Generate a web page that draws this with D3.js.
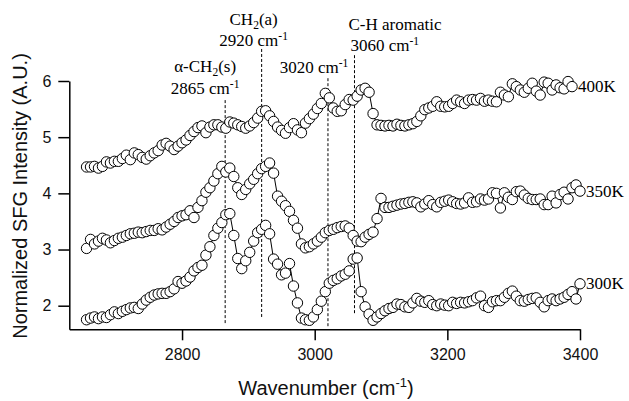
<!DOCTYPE html>
<html>
<head>
<meta charset="utf-8">
<script src="https://cdn.jsdelivr.net/npm/d3@7"></script>
<style>
  body { margin: 0; background: #fff; }
  svg { display: block; }
  .axis path, .axis line { stroke: #000; stroke-width: 1.5; }
  .axis text { font-family: "Liberation Sans", Arial, sans-serif; font-size: 16px; fill: #111; }
  .title { font-family: "Liberation Sans", Arial, sans-serif; font-size: 20px; fill: #111; }
  .note { font-family: "Liberation Serif", "Times New Roman", serif; font-size: 17px; fill: #000; }
</style>
</head>
<body>
<div id="chart"></div>
<script>
// wavenumber grid (cm-1), shared by the three spectra
const wavenumbers = [
  2656, 2662, 2668, 2674, 2680, 2686, 2692, 2698, 2704, 2710,
  2716, 2722, 2728, 2734, 2740, 2746, 2752, 2758, 2764, 2770,
  2776, 2782, 2788, 2794, 2800, 2806, 2812, 2818, 2824, 2830,
  2836, 2842, 2848, 2854, 2860, 2866, 2872, 2878, 2884, 2890,
  2896, 2902, 2908, 2914, 2920, 2926, 2932, 2938, 2944, 2950,
  2956, 2962, 2968, 2974, 2980, 2986, 2992, 2998, 3004, 3010,
  3016, 3022, 3028, 3034, 3040, 3046, 3052, 3058, 3064, 3070,
  3076, 3082, 3088, 3094, 3100, 3106, 3112, 3118, 3124, 3130,
  3136, 3142, 3148, 3154, 3160, 3166, 3172, 3178, 3184, 3190,
  3196, 3202, 3208, 3214, 3220, 3226, 3232, 3238, 3244, 3250,
  3256, 3262, 3268, 3274, 3280, 3286, 3292, 3298, 3304, 3310,
  3316, 3322, 3328, 3334, 3340, 3346, 3352, 3358, 3364, 3370,
  3376, 3382, 3388, 3394, 3400
];

const k300 = [
  1.75, 1.78, 1.80, 1.77, 1.80, 1.79, 1.84, 1.89, 1.86, 1.90,
  1.93, 1.96, 1.97, 1.95, 2.03, 2.10, 2.15, 2.19, 2.21, 2.22,
  2.22, 2.25, 2.30, 2.43, 2.40, 2.44, 2.51, 2.62, 2.68, 2.72,
  2.90, 3.05, 3.25, 3.38, 3.48, 3.62, 3.64, 3.25, 2.84, 2.66,
  2.80, 2.95, 3.15, 3.30, 3.36, 3.43, 3.28, 2.83, 2.74, 2.55,
  2.58, 2.75, 2.35, 2.05, 1.78, 1.75, 1.74, 1.80, 1.93, 2.08,
  2.25, 2.40, 2.45, 2.48, 2.53, 2.56, 2.62, 2.83, 2.85, 2.25,
  1.98, 1.85, 1.74, 1.80, 1.86, 1.91, 1.95, 1.97, 2.03, 2.02,
  1.98, 1.97, 2.05, 2.13, 2.08, 2.06, 2.09, 2.02, 2.00, 2.03,
  2.01, 2.00, 2.06, 2.04, 2.06, 2.05, 2.07, 2.09, 2.14, 2.17,
  2.00, 1.97, 2.07, 2.09, 2.09, 2.15, 2.22, 2.26, 2.17, 2.09,
  2.08, 2.11, 2.13, 2.14, 2.06, 1.98, 2.09, 2.12, 2.09, 2.12,
  2.15, 2.20, 2.25, 2.12, 2.39
];

const k350 = [
  3.02, 3.18, 3.10, 3.15, 3.20, 3.17, 3.12, 3.16, 3.20, 3.22,
  3.25, 3.28, 3.29, 3.31, 3.30, 3.32, 3.34, 3.34, 3.37, 3.35,
  3.40, 3.45, 3.50, 3.57, 3.60, 3.62, 3.69, 3.57, 3.75, 3.87,
  4.02, 4.10, 4.22, 4.35, 4.48, 4.38, 4.45, 4.30, 4.10, 3.98,
  4.07, 4.17, 4.25, 4.35, 4.44, 4.48, 4.54, 4.36, 3.95, 3.86,
  3.78, 3.68, 3.52, 3.38, 3.10, 3.03, 3.05, 3.10, 3.15, 3.22,
  3.30, 3.34, 3.36, 3.39, 3.41, 3.42, 3.38, 3.25, 3.15, 3.14,
  3.22, 3.27, 3.31, 3.55, 3.91, 3.75, 3.75, 3.77, 3.79, 3.81,
  3.82, 3.84, 3.85, 3.83, 3.76, 3.81, 3.87, 3.80, 3.76, 3.84,
  3.86, 3.88, 3.85, 3.82, 3.81, 3.83, 3.92, 3.84, 3.85, 3.90,
  3.88, 3.90, 4.01, 4.00, 3.74, 4.01, 3.93, 3.89, 4.03, 4.04,
  3.97, 3.91, 3.89, 3.89, 3.90, 3.80, 3.80, 3.95, 3.83, 3.98,
  4.02, 3.90, 4.10, 4.15, 4.04
];

const k400 = [
  4.47, 4.47, 4.48, 4.45, 4.48, 4.56, 4.54, 4.57, 4.57, 4.62,
  4.68, 4.60, 4.72, 4.69, 4.64, 4.61, 4.67, 4.72, 4.76, 4.86,
  4.89, 4.84, 4.78, 4.84, 4.90, 4.95, 5.03, 5.10, 5.17, 5.20,
  5.08, 5.18, 5.22, 5.22, 5.18, 5.16, 5.27, 5.25, 5.22, 5.19,
  5.16, 5.20, 5.26, 5.34, 5.46, 5.47, 5.38, 5.28, 5.18, 5.12,
  5.07, 5.17, 5.24, 5.13, 5.08, 5.25, 5.33, 5.41, 5.51, 5.60,
  5.78, 5.70, 5.52, 5.46, 5.47, 5.58, 5.67, 5.66, 5.73, 5.84,
  5.87, 5.80, 5.42, 5.22, 5.21, 5.20, 5.21, 5.20, 5.23, 5.21,
  5.20, 5.22, 5.24, 5.28, 5.38, 5.49, 5.52, 5.55, 5.63, 5.55,
  5.54, 5.55, 5.60, 5.66, 5.63, 5.60, 5.66, 5.67, 5.66, 5.69,
  5.64, 5.66, 5.64, 5.63, 5.80, 5.75, 5.72, 5.95, 5.90, 5.84,
  5.80, 5.87, 5.96, 5.82, 5.75, 5.98, 5.96, 5.84, 5.93, 5.88,
  5.86, 5.99, 5.90, null, null
];

const seriesNames = ["300K", "350K", "400K"];
const xTicks = [2800, 3000, 3200, 3400];
const yTicks = [2, 3, 4, 5, 6];

// assigned bands: dashed marker positions and their vertical extent (intensity units)
const bandPositions = [2865, 2920, 3020, 3060];
const bandTops = [5.66, 6.57, 6.05, 6.46];
const bandBottoms = [1.69, 1.77, 1.61, 1.86];

const width = 629, height = 401;

const x = d3.scaleLinear().domain([2630, 3400]).range([69.3, 580]);
const y = d3.scaleLinear().domain([1.58, 6]).range([329.3, 81]);

const svg = d3.select("#chart").append("svg")
  .attr("width", width)
  .attr("height", height);

// axes
svg.append("g")
  .attr("class", "axis")
  .attr("transform", "translate(0,329.3)")
  .call(d3.axisBottom(x).tickValues(xTicks).tickFormat(d3.format("d"))
    .tickSize(11).tickSizeOuter(0).tickPadding(8));

svg.append("g")
  .attr("class", "axis")
  .attr("transform", "translate(69.3,0)")
  .call(d3.axisLeft(y).tickValues(yTicks).tickFormat(d3.format("d"))
    .tickSize(11).tickSizeOuter(0).tickPadding(7));

// rich text: segments of [text, "sub" | "sup" | undefined]
function richText(g, px, py, segs, anchor) {
  const t = g.append("text")
    .attr("class", "note")
    .attr("x", px)
    .attr("y", py)
    .attr("text-anchor", anchor || "middle");
  let shift = 0;
  segs.forEach(([s, kind]) => {
    const target = kind === "sub" ? 4 : kind === "sup" ? -6 : 0;
    t.append("tspan")
      .attr("dy", target - shift)
      .style("font-size", kind ? "0.68em" : null)
      .text(s);
    shift = target;
  });
  return t;
}

// dashed band markers
svg.append("g").selectAll("line")
  .data(bandPositions)
  .join("line")
  .attr("x1", d => x(d))
  .attr("x2", d => x(d))
  .attr("y1", (d, i) => y(bandTops[i]))
  .attr("y2", (d, i) => y(bandBottoms[i]))
  .attr("stroke", "#000")
  .attr("stroke-width", 1)
  .attr("stroke-dasharray", "3,2");

// spectra
const spectra = [k300, k350, k400];
const line = d3.line()
  .defined(d => d[1] != null)
  .x(d => x(d[0]))
  .y(d => y(d[1]));

spectra.forEach((vals, i) => {
  const pts = wavenumbers.map((w, j) => [w, vals[j]]);
  const g = svg.append("g");
  g.append("path")
    .datum(pts)
    .attr("d", line)
    .attr("fill", "none")
    .attr("stroke", "#000")
    .attr("stroke-width", 1);
  g.selectAll("circle")
    .data(pts.filter(d => d[1] != null))
    .join("circle")
    .attr("cx", d => x(d[0]))
    .attr("cy", d => y(d[1]))
    .attr("r", 5.2)
    .attr("fill", "#fff")
    .attr("stroke", "#000")
    .attr("stroke-width", 1);

  const last = pts.filter(d => d[1] != null).pop();
  svg.append("text")
    .attr("class", "note")
    .attr("x", x(last[0]) + 6)
    .attr("y", y(last[1]) + 5.5)
    .text(seriesNames[i]);
});

// band annotations
const notes = svg.append("g");
richText(notes, x(2865) - 20, 72, [["α-CH"], ["2", "sub"], ["(s)"]]);
richText(notes, x(2865) - 20, 94, [["2865 cm"], ["-1", "sup"]]);
richText(notes, x(2920) - 8, 25, [["CH"], ["2", "sub"], ["(a)"]]);
richText(notes, x(2920) - 8, 46, [["2920 cm"], ["-1", "sup"]]);
richText(notes, x(3020) - 14, 73, [["3020 cm"], ["-1", "sup"]]);
richText(notes, x(3060) - 6, 30, [["C-H aromatic"]], "start");
richText(notes, x(3060) - 4, 51, [["3060 cm"], ["-1", "sup"]], "start");

// axis titles
const xt = svg.append("text")
  .attr("class", "title")
  .attr("x", 326)
  .attr("y", 395)
  .attr("text-anchor", "middle");
xt.append("tspan").text("Wavenumber (cm");
xt.append("tspan").attr("dy", -8).style("font-size", "13px").text("-1");
xt.append("tspan").attr("dy", 8).text(")");

svg.append("text")
  .attr("class", "title")
  .attr("transform", "translate(27,196) rotate(-90)")
  .attr("text-anchor", "middle")
  .text("Normalized SFG Intensity (A.U.)");
</script>
</body>
</html>
